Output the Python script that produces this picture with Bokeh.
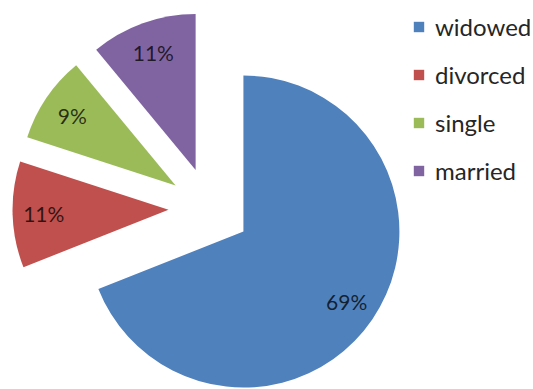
import math
from bokeh.plotting import figure
from bokeh.models import Range1d, Legend, LegendItem, ColumnDataSource
from bokeh.core.properties import value
from bokeh.embed import file_html
from bokeh.resources import INLINE

# ---- data ----
categories = ["widowed", "divorced", "single", "married"]
percents = [69, 11, 9, 11]
colors = ["#4F81BD", "#C0504D", "#9BBB59", "#8064A2"]

# ---- layout constants (pixels) ----
W, H = 533, 389
CX, CY = 209, H - 208      # pie centre (y measured upward)
R = 156                    # radius
EXPLODE = 41               # explosion distance
LABEL_F = 0.8              # label position as fraction of radius

total = float(sum(percents))
xs, ys, starts, ends, lx, ly, labels = [], [], [], [], [], [], []
cum = 0.0
for v in percents:
    a0 = cum / total * 2 * math.pi
    cum += v
    a1 = cum / total * 2 * math.pi
    mid = (a0 + a1) / 2
    dx, dy = math.sin(mid), math.cos(mid)
    x = CX + EXPLODE * dx
    y = CY + EXPLODE * dy
    xs.append(x)
    ys.append(y)
    starts.append(math.pi / 2 - a0)
    ends.append(math.pi / 2 - a1)
    lx.append(x + LABEL_F * R * dx)
    ly.append(y + LABEL_F * R * dy)
    labels.append(f"{v}%")

src = ColumnDataSource(dict(x=xs, y=ys, start=starts, end=ends, color=colors,
                            cat=categories, lx=lx, ly=ly, label=labels))

p = figure(width=W, height=H, output_backend="svg", toolbar_location=None,
           x_range=Range1d(0, W), y_range=Range1d(0, H), min_border=0,
           background_fill_color="white", border_fill_color="white")
p.axis.visible = False
p.grid.visible = False
p.outline_line_color = None

r = p.wedge(x="x", y="y", radius=R, start_angle="start", end_angle="end",
            direction="clock", fill_color="color", line_color=None, source=src)

p.text(x="lx", y="ly", text="label", source=src, text_align="center",
       text_baseline="middle", text_font=value("Lato"), text_font_size="21px",
       text_color="black", text_alpha=0.75)

items = [LegendItem(label=c, renderers=[r], index=i) for i, c in enumerate(categories)]
legend = Legend(items=items, location=(412, 204), orientation="vertical",
                glyph_width=13, glyph_height=13, label_height=28, spacing=19,
                label_standoff=10, padding=0, margin=0, border_line_color=None,
                background_fill_alpha=0, label_text_font="Lato",
                label_text_font_size="24px", label_text_color="#262626")
p.add_layout(legend)

open("out.html", "w").write(file_html(p, INLINE))
